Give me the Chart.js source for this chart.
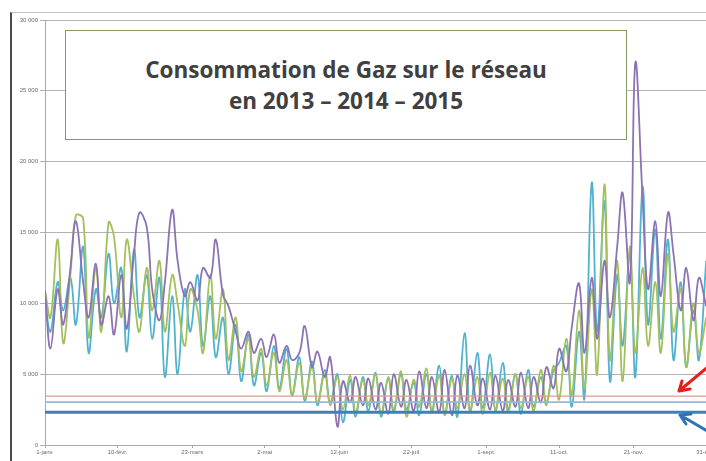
<!DOCTYPE html>
<html>
<head>
<meta charset="utf-8">
<script src="https://cdn.jsdelivr.net/npm/chart.js@4"></script>
<style>
  html, body { margin: 0; padding: 0; background: #fff; overflow: hidden; }
  #wrap { position: relative; width: 706px; height: 461px; overflow: hidden; }
  #frame {
    position: absolute; left: 10px; top: 12px; width: 730px; height: 448px;
    border-left: 2px solid #4a4a4a; border-top: 1px solid #c4c4c4;
  }
  #box {
    position: absolute; left: 65px; top: 30px; width: 560px; height: 108px;
    border: 1.5px solid #849c62; background: #fff;
    display: flex; flex-direction: column; align-items: center; justify-content: center;
    font-family: "Open Sans", sans-serif; font-weight: 700; font-size: 22.5px;
    color: #404040; line-height: 31px;
  }
  #arrows { position: absolute; left: 0; top: 0; }
</style>
</head>
<body>
<div id="wrap">
  <div id="frame"><canvas id="gas"></canvas></div>
  <div id="box">
    <div>Consommation de Gaz sur le réseau</div>
    <div>en 2013 – 2014 – 2015</div>
  </div>
  <svg id="arrows" width="706" height="461">
    <g fill="none" stroke-width="3" stroke-linecap="round" stroke-linejoin="round">
      <path d="M709 366 L679 391 M679 391 L690 389 M679 391 L682 381" stroke="#e3201b"/>
      <path d="M709 432 L680 415 M680 415 L686 424 M680 415 L691 414" stroke="#2e74b5"/>
    </g>
  </svg>
</div>
<script>
// day of year for every sample (every 3-4 days)
const days = [0,3,7,10,14,17,21,24,28,31,35,38,42,45,49,52,56,59,63,66,
  70,73,77,80,84,87,91,94,98,101,105,108,112,115,119,122,126,129,133,136,
  140,143,147,150,154,157,161,164,168,171,175,178,182,185,189,192,196,199,203,206,
  210,213,217,220,224,227,231,234,238,241,245,248,252,255,259,262,266,269,273,276,
  280,283,287,290,294,297,301,304,308,311,315,318,322,325,329,332,336,339,343,346,
  350,353,357,360,364];

const gas2013 = [10900,6800,11000,8500,12500,15800,11500,9000,12800,8500,
  10500,7800,12000,8200,13500,16400,15400,11000,8800,11500,
  16600,13000,10500,11500,10200,12500,11800,14500,10600,9800,
  8000,6800,8000,6500,7500,6200,7800,5800,7000,6000,
  6500,8400,5500,6600,4800,6200,1300,4500,3000,4800,
  2800,4700,2500,4400,2200,5000,2700,4600,2400,5200,
  2600,4800,2300,5300,2100,4900,2600,5600,2800,4700,
  2500,4900,2400,4600,2700,5100,2600,4800,3000,5500,
  4000,6800,5200,8300,11400,6500,11800,7500,13000,9000,
  14000,17800,11500,27000,17400,11000,15800,10500,16400,13500,
  9500,12500,8800,11800,9800];

const gas2014 = [10900,9000,14500,7200,12000,16200,16000,7600,12500,8000,
  15700,14700,9000,14500,10500,8000,12500,9500,13000,8000,
  12000,10000,7000,11000,9500,6500,12000,7500,11000,6000,
  9000,5200,7500,4800,6800,4200,6500,3800,6000,3500,
  5800,3300,5500,3000,5000,2800,4800,2500,4900,2300,
  4600,2800,5000,2200,4800,2500,5200,2000,4600,2700,
  5400,2300,4900,2100,4700,2600,5000,2400,4800,2200,
  5100,2500,4700,2300,5000,2600,4800,2400,5300,2800,
  5600,3200,7500,3500,9500,4000,11000,5000,18400,6000,
  13000,4500,14000,6500,12500,7000,11500,6500,13500,8000,
  11000,5500,10000,6500,9000];

const gas2015 = [10200,8000,11500,9500,11800,8500,14000,6500,11000,9000,
  13500,10000,12500,6600,13800,9000,12000,7500,11800,4800,
  10500,5000,11000,8000,12000,7000,10500,6200,9000,5000,
  8500,4500,7800,4200,6500,3800,7000,4000,6800,3500,
  6200,3100,5900,2800,5300,3000,5000,1600,4600,2000,
  4800,2400,5100,2000,4700,2300,5000,2500,4400,2100,
  5000,2400,5600,2200,4900,2000,7900,2300,6500,2600,
  6400,2400,5800,2500,5000,2200,5300,2700,4800,3000,
  5300,5800,7000,2700,8000,3300,18500,8000,17200,4500,
  12000,7000,13500,4800,18200,8500,15200,7500,14500,6000,
  11500,5500,9500,6000,13000];

// horizontal reference levels
const refLevels = [3450, 3030, 2320];

const tickDays = [0, 40, 81, 121, 162, 202, 243, 283, 324, 364];
const tickLabels = ['1-janv.', '10-févr.', '23-mars', '2-mai', '12-juin',
  '22-juil.', '1-sept.', '11-oct.', '21-nov.', '31-déc.'];

const toPoints = vals => days.map((d, i) => ({ x: d, y: vals[i] }));
const flat = lvl => [{ x: 0, y: lvl }, { x: 365, y: lvl }];

const seriesLine = (label, color, vals) => ({
  label, data: toPoints(vals),
  borderColor: color, borderWidth: 1.8, pointRadius: 0, tension: 0.4, fill: false,
});

new Chart(document.getElementById('gas'), {
  type: 'line',
  data: {
    datasets: [
      { label: 'seuil 1', data: flat(refLevels[0]), borderColor: '#e39a8e', borderWidth: 1.3, pointRadius: 0 },
      { label: 'seuil 2', data: flat(refLevels[1]), borderColor: '#9bb6d6', borderWidth: 1.6, pointRadius: 0 },
      { label: 'seuil 3', data: flat(refLevels[2]), borderColor: '#3f7fbd', borderWidth: 3, pointRadius: 0 },
      seriesLine('2013', '#8d72b4', gas2013),
      seriesLine('2014', '#a2c05c', gas2014),
      seriesLine('2015', '#4fb2cf', gas2015),
    ],
  },
  options: {
    responsive: true,
    maintainAspectRatio: false,
    animation: false,
    layout: { padding: { top: 7, right: 34, left: 0, bottom: 0 } },
    plugins: { legend: { display: false }, tooltip: { enabled: false } },
    scales: {
      x: {
        type: 'linear', min: 0, max: 365,
        afterBuildTicks: s => { s.ticks = tickDays.map(v => ({ value: v })); },
        afterFit: s => { s.height = 16; },
        grid: { drawOnChartArea: false, drawTicks: true, tickLength: 3, color: '#a8a8a8' },
        border: { color: '#a8a8a8' },
        ticks: {
          autoSkip: false, maxRotation: 0, padding: 1,
          color: '#6a6a6a', font: { family: 'Liberation Sans', size: 6 },
          callback: (v, i) => tickLabels[i],
        },
      },
      y: {
        min: 0, max: 30000,
        afterFit: s => { s.width = 33; },
        grid: { color: '#b2b2b2', tickLength: 5 },
        border: { color: '#a8a8a8' },
        ticks: {
          stepSize: 5000, padding: 2,
          color: '#6a6a6a', font: { family: 'Liberation Sans', size: 6 },
          callback: v => v.toLocaleString('fr-FR').replace(/\s/g, ' '),
        },
      },
    },
  },
});
</script>
</body>
</html>
